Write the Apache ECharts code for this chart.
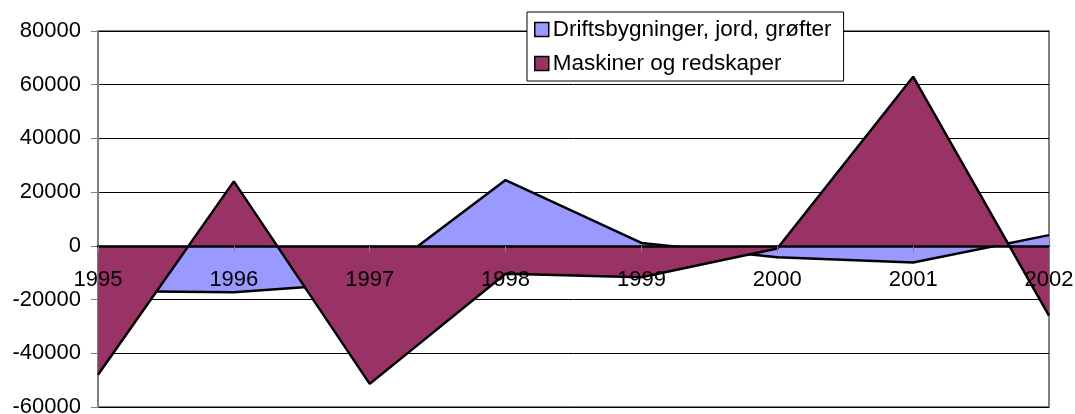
<!DOCTYPE html>
<html lang="no">
<head>
<meta charset="UTF-8">
<title>Investeringer</title>
<script src="https://cdn.jsdelivr.net/npm/echarts/dist/echarts.min.js"></script>
<style>
  html, body { margin: 0; padding: 0; background: #fff; }
  #chart { width: 1075px; height: 414px; }
</style>
</head>
<body>
<div id="chart"></div>
<script>
// years on the category axis
const years = ['1995', '1996', '1997', '1998', '1999', '2000', '2001', '2002'];
// Driftsbygninger, jord, grøfter
const drifts = [-16800, -17300, -13600, 24500, 1100, -4200, -6200, 4000];
// Maskiner og redskaper
const maskiner = [-48000, 24000, -51400, -10400, -11700, -1000, 63000, -26000];

const seriesNames = ['Driftsbygninger, jord, grøfter', 'Maskiner og redskaper'];
const fontFam = '"Liberation Sans", Arial, sans-serif';

let chart = echarts.init(document.getElementById('chart'));

// x axis sits on the zero line: move it up from the bottom of the grid
// (plot is 376px high, zero is 4 of 7 steps down from the top)
let zeroOffset = -Math.round(376 * 3 / 7);

let option = {
    animation: false,
    backgroundColor: '#fff',
    textStyle: { fontFamily: fontFam, color: '#000' },
    grid: {
        left: 98, right: 26, top: 31, bottom: 7,
        containLabel: false,
        outerBoundsMode: 'none',
        show: true,
        borderColor: '#808080',
        borderWidth: 2,
        backgroundColor: '#fff'
    },
    legend: {
        orient: 'vertical',
        left: 527,
        top: 12,
        padding: [6, 12, 6, 7],
        itemGap: 11,
        itemWidth: 14,
        itemHeight: 14,
        icon: 'rect',
        backgroundColor: '#fff',
        borderColor: '#000',
        borderWidth: 1,
        itemStyle: { borderColor: '#000', borderWidth: 1.5 },
        textStyle: { fontSize: 22.5, color: '#000', fontFamily: fontFam, padding: [0, 0, 0, -1] },
        data: seriesNames
    },
    xAxis: {
        type: 'category',
        data: years,
        boundaryGap: false,
        position: 'bottom',
        offset: zeroOffset,
        z: 10,
        axisLine: { onZero: false, lineStyle: { color: '#000', width: 2.5 } },
        axisTick: { show: true, length: 6, inside: false, lineStyle: { color: '#808080' } },
        axisLabel: { show: true, hideOverlap: false, fontSize: 22, color: '#000', margin: 23, fontFamily: fontFam },
        splitLine: { show: false }
    },
    yAxis: {
        type: 'value',
        min: -60000,
        max: 80000,
        interval: 20000,
        axisLine: { show: true, lineStyle: { color: '#808080', width: 2 } },
        axisTick: { show: true, length: 7, lineStyle: { color: '#808080' } },
        axisLabel: { fontSize: 22, color: '#000', margin: 17, fontFamily: fontFam, formatter: v => String(v) },
        splitLine: { show: true, lineStyle: { color: '#000', width: 1 } }
    },
    series: [
        {
            name: seriesNames[0],
            type: 'line',
            data: drifts,
            symbol: 'none',
            itemStyle: { color: '#9999FF' },
            lineStyle: { color: '#000', width: 2.5 },
            areaStyle: { color: '#9999FF', opacity: 1, origin: 0 },
            z: 2
        },
        {
            name: seriesNames[1],
            type: 'line',
            data: maskiner,
            symbol: 'none',
            itemStyle: { color: '#993366' },
            lineStyle: { color: '#000', width: 2.5 },
            areaStyle: { color: '#993366', opacity: 1, origin: 0 },
            z: 3
        }
    ]
};

chart.setOption(option);
</script>
</body>
</html>
